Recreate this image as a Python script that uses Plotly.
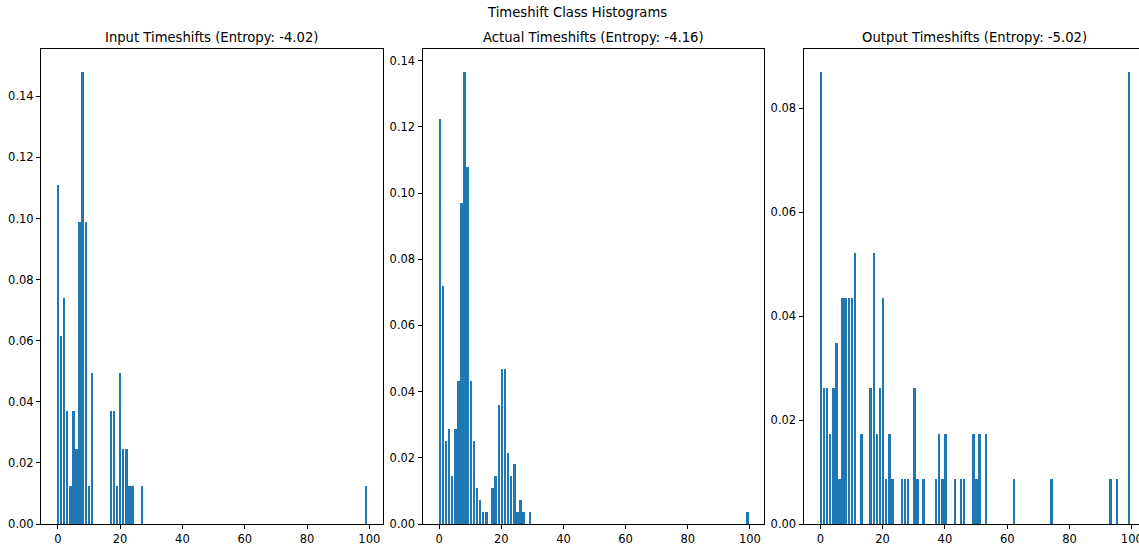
import plotly.graph_objects as go

# ---------------- data ----------------
input_x = [0, 1, 2, 3, 4, 5, 6, 7, 8, 9, 10, 11, 17, 18, 19, 20, 21, 22, 23, 24, 27, 99]
input_y = [0.1111, 0.0617, 0.0741, 0.0370, 0.0123, 0.0370, 0.0247, 0.0988, 0.1481, 0.0988,
           0.0123, 0.0494, 0.0370, 0.0370, 0.0123, 0.0494, 0.0247, 0.0247, 0.0123, 0.0123,
           0.0123, 0.0123]

actual_x = [0, 1, 2, 3, 4, 5, 6, 7, 8, 9, 10, 11, 12, 13, 14, 15, 17, 18, 19, 20, 21, 22,
            23, 24, 25, 26, 27, 29, 99]
actual_y = [0.1223, 0.0719, 0.0252, 0.0288, 0.0144, 0.0288, 0.0432, 0.0971, 0.1367, 0.1079,
            0.0432, 0.0252, 0.0108, 0.0072, 0.0036, 0.0036, 0.0108, 0.0144, 0.0360, 0.0468,
            0.0468, 0.0216, 0.0144, 0.0180, 0.0036, 0.0072, 0.0036, 0.0036, 0.0036]

output_x = [0, 1, 2, 3, 4, 5, 6, 7, 8, 9, 10, 11, 13, 16, 17, 18, 19, 20, 21, 22, 23, 26,
            27, 28, 30, 31, 33, 37, 38, 39, 40, 43, 45, 46, 49, 50, 51, 53, 62, 74, 93, 95, 99]
output_y = [0.0870, 0.0261, 0.0261, 0.0174, 0.0261, 0.0348, 0.0087, 0.0435, 0.0435, 0.0435,
            0.0435, 0.0522, 0.0174, 0.0261, 0.0522, 0.0174, 0.0261, 0.0435, 0.0087, 0.0174,
            0.0087, 0.0087, 0.0087, 0.0087, 0.0261, 0.0087, 0.0087, 0.0087, 0.0174, 0.0087,
            0.0174, 0.0087, 0.0087, 0.0087, 0.0174, 0.0087, 0.0174, 0.0174, 0.0087, 0.0087,
            0.0087, 0.0087, 0.0870]

titles = ["Input Timeshifts (Entropy: -4.02)",
          "Actual Timeshifts (Entropy: -4.16)",
          "Output Timeshifts (Entropy: -5.02)"]
suptitle = "Timeshift Class Histograms"
x_ticks = [0, 20, 40, 60, 80, 100]
y_ticks = [[0.0, 0.02, 0.04, 0.06, 0.08, 0.10, 0.12, 0.14],
           [0.0, 0.02, 0.04, 0.06, 0.08, 0.10, 0.12, 0.14],
           [0.0, 0.02, 0.04, 0.06, 0.08]]

# ---------------- layout ----------------
W, H = 1139, 546
FONT = "DejaVu Sans"
BAR = "#1f77b4"
panels_px = [(41, 383), (422.5, 763.5), (803.5, 1145.5)]  # full axes widths in px
top_px, bot_px = 49, 524
xmin, xmax = -5.39, 104.39

fig = go.Figure()
series = [(input_x, input_y), (actual_x, actual_y), (output_x, output_y)]

for i, (xs, ys) in enumerate(series):
    n = "" if i == 0 else str(i + 1)
    fig.add_trace(go.Bar(x=xs, y=ys, width=0.8, marker=dict(color=BAR, line=dict(width=0)),
                         xaxis="x" + n, yaxis="y" + n, showlegend=False))
    l, r = panels_px[i]
    r_vis = min(r, W)
    x_end = xmin + (r_vis - l) / (r - l) * (xmax - xmin)
    ax_common = dict(showgrid=False, zeroline=False, showline=True, linecolor="black",
                     linewidth=1, ticks="outside", ticklen=4, tickwidth=1, tickcolor="black",
                     automargin=False, ticklabeloverflow="allow",
                     tickfont=dict(family=FONT, size=11.5, color="black"))
    fig.layout["xaxis" + n] = dict(domain=[l / W, r_vis / W], range=[xmin, x_end],
                                   tickvals=x_ticks, anchor="y" + n,
                                   mirror=True, **ax_common)
    ymax = max(ys) * 1.05
    fig.layout["yaxis" + n] = dict(domain=[(H - bot_px) / H, (H - top_px) / H],
                                   range=[0, ymax], tickvals=y_ticks[i], tickformat=".2f",
                                   anchor="x" + n, mirror=(r <= W), **ax_common)
    fig.add_annotation(text=titles[i], x=((l + r) / 2) / W, y=(H - 38) / H,
                       xref="paper", yref="paper", xanchor="center", yanchor="middle",
                       showarrow=False, font=dict(family=FONT, size=13.2, color="black"))

fig.add_annotation(text=suptitle, x=577 / W, y=(H - 12) / H, xref="paper", yref="paper",
                   xanchor="center", yanchor="middle", showarrow=False,
                   font=dict(family=FONT, size=13.2, color="black"))

fig.update_layout(width=W, height=H, margin=dict(l=0, r=0, t=0, b=0, autoexpand=False),
                  paper_bgcolor="white", plot_bgcolor="white", bargap=0,
                  font=dict(family=FONT, color="black"))

fig.write_html("out.html")
